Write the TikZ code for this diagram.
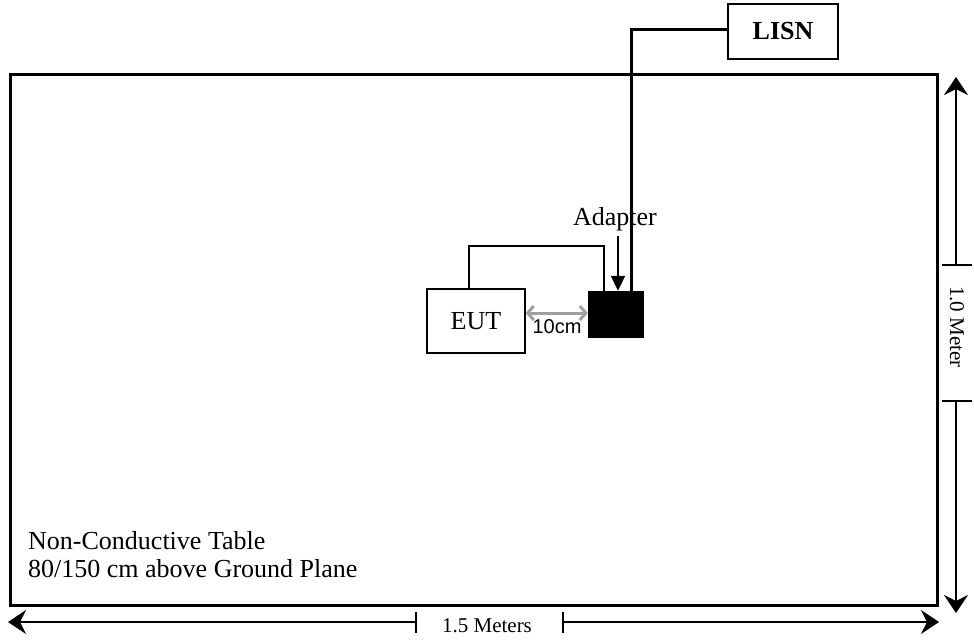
\documentclass[tikz,border=0pt]{standalone}
\usepackage{fontspec}
\setmainfont{Liberation Serif}
\setsansfont{Liberation Sans}
\usetikzlibrary{arrows.meta}
\definecolor{dimgray}{HTML}{A0A0A0}
\tikzset{
  big/.style={font=\fontsize{26}{30}\selectfont},
  small/.style={font=\fontsize{21}{24}\selectfont},
  thinbox/.style={draw, line width=1.5pt, inner sep=0pt},
  cable/.style={line width=3pt},
  thincable/.style={line width=1.5pt},
  dimline/.style={line width=1.5pt},
  dimtip/.style={-{Stealth[length=18pt,width=24pt,inset=6pt]}},
}
\begin{document}
\begin{tikzpicture}[x=1pt,y=-1pt]
\useasboundingbox (0,0) rectangle (974,641);
% table
\draw[line width=3pt] (10,74) rectangle (937,605);
% LISN
\node[thinbox, big, minimum width=110pt, minimum height=55pt, font=\fontsize{26}{30}\selectfont\bfseries] (lisn) at (783,31.5) {LISN};
% adapter
\node[fill=black, draw=black, minimum width=55pt, minimum height=46pt, inner sep=0pt] (adapter) at (615.5,314) {};
% EUT
\node[thinbox, big, minimum width=98pt, minimum height=64pt] (eut) at (476,321) {EUT};
% cables
\coordinate (c1) at (631,29);
\draw[cable] (lisn.west |- c1) -- (c1) -- (c1 |- adapter.north);
\coordinate (c2) at (469,246);
\coordinate (c3) at (604,246);
\draw[thincable] (c2 |- eut.north) -- (c2) -- (c3) -- (c3 |- adapter.north);
% adapter label and arrow
\node[big] (adlabel) at (615,219) {Adapter};
\coordinate (adtop) at (618,236);
\draw[line width=2pt, -{Triangle[length=15pt,width=14pt]}] (adtop) -- (adtop |- adapter.north);
% 10cm arrow
\draw[dimgray, line width=3pt, {Straight Barb[length=6pt,width=14pt]}-{Straight Barb[length=6pt,width=14pt]}] (eut.east |- 0,313) -- (adapter.west |- 0,313);
\node[font=\sffamily\fontsize{20}{24}\selectfont] (tencm) at (557,327) {10cm};
% table texts
\node[big, anchor=base west, inner sep=0pt] (t1) at (28,549) {Non-Conductive Table};
\node[big, anchor=base west, inner sep=0pt] (t2) at (28,577) {80/150 cm above Ground Plane};
% right dimension
\coordinate (r1) at (956,265);
\coordinate (r2) at (956,401);
\coordinate (rtop) at (956,77);
\coordinate (rbot) at (956,613);
\draw[dimline, dimtip] (r1) -- (rtop);
\draw[dimline, dimtip] (r2) -- (rbot);
\draw[dimline] (942,265) -- (972,265);
\draw[dimline] (942,401) -- (972,401);
\node[small, rotate=-90] (rlabel) at (957,327) {1.0 Meter};
% bottom dimension
\coordinate (b1) at (416,622);
\coordinate (b2) at (563,622);
\coordinate (bl) at (8,622);
\coordinate (br) at (939,622);
\draw[dimline, dimtip] (b1) -- (bl);
\draw[dimline, dimtip] (b2) -- (br);
\draw[dimline] (416,612) -- (416,633);
\draw[dimline] (563,612) -- (563,633);
\node[small] (blabel) at (487,626) {1.5 Meters};
\end{tikzpicture}
\end{document}
